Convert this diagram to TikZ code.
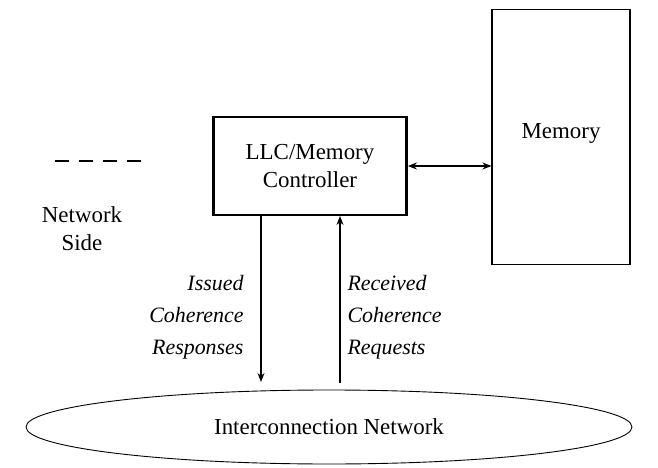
\documentclass[tikz,border=0pt]{standalone}
\usepackage{fontspec}
\setmainfont{Liberation Serif}
\usetikzlibrary{shapes.geometric,arrows.meta}
\begin{document}
\begin{tikzpicture}[x=1bp,y=-1bp,>={Stealth[length=9bp,width=7bp]},font=\fontsize{23}{28}\selectfont]
	\tikzstyle{lbl}=[font=\fontsize{22}{32}\selectfont\itshape,align=left]
	\useasboundingbox (0,0) rectangle (658,468);
	\node [draw,line width=2.8pt,minimum width=193bp,minimum height=98bp,align=center] (llc) at (310,166) {LLC/Memory\\Controller};
	\node [draw,line width=1.1pt,minimum width=138bp,minimum height=255bp] (mem) at (561,137) {};
	\node at (561,133) {Memory};
	\node [draw,line width=0.9pt,ellipse,minimum width=606bp,minimum height=74bp] (net) at (329,427) {Interconnection Network};
	\draw [<->,line width=1.2pt] (llc.east) -- (mem.west |- llc.east);
	\coordinate (d1) at (261,216);
	\coordinate (d2) at (261,382);
	\coordinate (u1) at (340,383);
	\coordinate (u2) at (340,216);
	\draw [->,line width=1.2pt] (d1) -- (d2);
	\draw [->,line width=1.2pt] (u1) -- (u2);
	\node [lbl,align=right,anchor=east] (iss) at (247,317) {Issued\\Coherence\\Responses};
	\node [lbl,anchor=west] (rec) at (344,317) {Received\\Coherence\\Requests};
	\draw [line width=1.5pt,dash pattern=on 14pt off 10pt] (55,161) -- (142,161);
	\node [align=center,font=\fontsize{23}{28}\selectfont] (side) at (82,229) {Network\\Side};
\end{tikzpicture}
\end{document}
